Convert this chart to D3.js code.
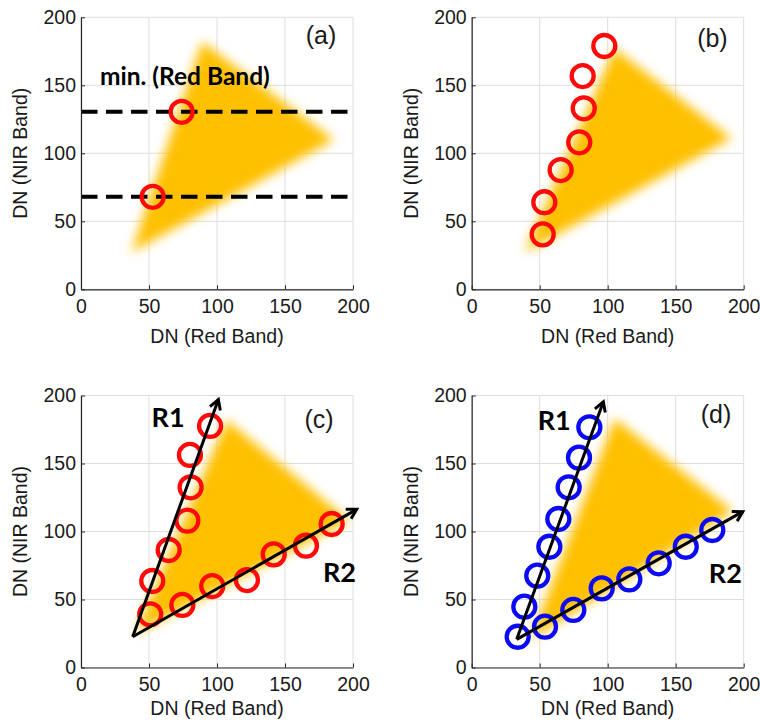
<!DOCTYPE html>
<html>
<head>
<meta charset="utf-8">
<script src="https://cdn.jsdelivr.net/npm/d3@7"></script>
<style>
  body { margin: 0; background: #fff; }
  svg { display: block; }
</style>
</head>
<body>
<svg id="fig" width="760" height="726"></svg>
<script>
// ---- data (DN of the Red band on x, DN of the NIR band on y) ----
const ticks = [0, 50, 100, 150, 200];
const xLabel = "DN (Red Band)";
const yLabel = "DN (NIR Band)";
const panelLetters = ["(a)", "(b)", "(c)", "(d)"];

// outline of the pixel cluster in each panel
const clusterA = [[89, 182], [37, 27], [186, 110]];
const clusterB = [[105, 177], [39, 27], [191, 111]];
const clusterC = [[107, 182], [40, 25], [197, 108]];
const clusterD = [[105, 183], [43, 20], [192, 115]];

// (a) minimum-red search on two NIR levels
const minLevelsA = [130.5, 68];
const minPointsA = [[74, 130.5], [52.7, 68]];

// (b) minimum-red pixels per NIR level
const edgePointsB = [[97.5, 178.9], [81.6, 156.8], [82.4, 133.1], [79.1, 108.1], [65.4, 87.7], [53.4, 64], [52.2, 40.4]];

// (c) R1 / R2 candidate edge pixels
const r1PointsC = [[94.9, 177.6], [80.1, 156.3], [80.6, 132.5], [78.2, 108], [64.5, 86.4], [52.4, 63.6], [50.9, 39.1]];
const r2PointsC = [[74.5, 46], [96.5, 59.9], [122, 64.3], [141.7, 83.2], [165.4, 89.6], [184.3, 105.5]];
const originC = [38, 22.6];
const r1EndC = [101, 197];
const r2EndC = [202.7, 116.3];

// (d) resampled points along R1 / R2
const r1PointsD = [[86.5, 176.6], [78.9, 154.3], [71.3, 132.5], [63.7, 109.2], [57.1, 88.8], [48.2, 67.5], [38.7, 44.7], [33.8, 22.6]];
const r2PointsD = [[53.9, 30], [74.7, 42.3], [95.6, 58.2], [115.9, 64.8], [137.5, 76.6], [157.4, 88.8], [176.9, 101.1]];
const originD = [33.1, 20.7];
const r1EndD = [96.8, 195.4];
const r2EndD = [199.3, 114.6];

// ---- layout ----
const size = 272;
const layout = [
  { left: 81,    top: 17.3,  xlabOff: 54,  letter: [176.5, 180.4] },
  { left: 471.7, top: 17.3,  xlabOff: 54,  letter: [177, 178.2] },
  { left: 81,    top: 395.5, xlabOff: 47,  letter: [175, 176] },
  { left: 471.7, top: 395.5, xlabOff: 47,  letter: [179.6, 179.8] }
];

const RED = "#ff0a0a", BLUE = "#0a0af5", YELLOW = "#ffc000", INK = "#1a1a1a";
const FONT = "Liberation Sans, Arial, sans-serif";
const svg = d3.select("#fig");
const defs = svg.append("defs");
defs.append("filter").attr("id", "soft")
  .attr("x", "-20%").attr("y", "-20%").attr("width", "140%").attr("height", "140%")
  .append("feGaussianBlur").attr("stdDeviation", 5.5);

function makePanel(i) {
  const L = layout[i];
  const x = d3.scaleLinear().domain([0, 200]).range([0, size]);
  const y = d3.scaleLinear().domain([0, 200]).range([size, 0]);
  const g = svg.append("g").attr("transform", `translate(${L.left},${L.top})`);

  // grid
  const grid = g.append("g").attr("stroke", "#dedede").attr("stroke-width", 1);
  ticks.forEach(t => {
    grid.append("line").attr("x1", x(t)).attr("x2", x(t)).attr("y1", 0).attr("y2", size);
    grid.append("line").attr("y1", y(t)).attr("y2", y(t)).attr("x1", 0).attr("x2", size);
  });

  const layer = g.append("g");

  // axes
  const ax = g.append("g").attr("transform", `translate(0,${size})`)
    .call(d3.axisBottom(x).tickValues(ticks).tickSizeInner(-4).tickSizeOuter(0).tickPadding(10));
  const ay = g.append("g")
    .call(d3.axisLeft(y).tickValues(ticks).tickSizeInner(-4).tickSizeOuter(0).tickPadding(5));
  [ax, ay].forEach(a => {
    a.select(".domain").attr("stroke", "#262626").attr("stroke-width", 1.2);
    a.selectAll(".tick line").attr("stroke", "#262626");
    a.selectAll("text").attr("font-family", FONT).attr("font-size", 19.5).attr("fill", INK);
  });

  g.append("text").attr("x", size / 2).attr("y", size + L.xlabOff)
    .attr("text-anchor", "middle").attr("font-family", FONT)
    .attr("font-size", 19.5).attr("fill", INK).text(xLabel);
  g.append("text").attr("transform", `translate(-54,${size / 2}) rotate(-90)`)
    .attr("text-anchor", "middle").attr("font-family", FONT)
    .attr("font-size", 19.5).attr("fill", INK).text(yLabel);

  g.append("text").attr("x", x(L.letter[0])).attr("y", y(L.letter[1]))
    .attr("text-anchor", "middle").attr("font-family", FONT)
    .attr("font-size", 25).attr("fill", INK).text(panelLetters[i]);

  return { g, layer, x, y };
}

function cluster(p, pts) {
  p.layer.append("path")
    .attr("d", d3.line().x(d => p.x(d[0])).y(d => p.y(d[1])).curve(d3.curveLinearClosed)(pts))
    .attr("fill", YELLOW).attr("filter", "url(#soft)");
}

function rings(p, pts, color) {
  p.layer.append("g").selectAll("circle").data(pts).join("circle")
    .attr("cx", d => p.x(d[0])).attr("cy", d => p.y(d[1])).attr("r", 11)
    .attr("fill", "none").attr("stroke", color).attr("stroke-width", 4.3);
}

function arrow(p, from, to) {
  const x0 = p.x(from[0]), y0 = p.y(from[1]), x1 = p.x(to[0]), y1 = p.y(to[1]);
  const ang = Math.atan2(y1 - y0, x1 - x0), w = 11, spread = Math.PI / 6;
  p.layer.append("line").attr("x1", x0).attr("y1", y0).attr("x2", x1).attr("y2", y1)
    .attr("stroke", "#000").attr("stroke-width", 3);
  const a1 = [x1 - w * Math.cos(ang - spread), y1 - w * Math.sin(ang - spread)];
  const a2 = [x1 - w * Math.cos(ang + spread), y1 - w * Math.sin(ang + spread)];
  p.layer.append("path").attr("d", `M${a1}L${x1},${y1}L${a2}`)
    .attr("fill", "none").attr("stroke", "#000").attr("stroke-width", 3)
    .attr("stroke-linejoin", "miter");
}

function boldLabel(p, txt, xv, yv, anchor, fs) {
  p.layer.append("text").attr("x", p.x(xv)).attr("y", p.y(yv)).attr("text-anchor", anchor)
    .attr("font-family", "Lato, 'Open Sans', sans-serif").attr("font-weight", 700)
    .attr("font-size", fs).attr("fill", "#000").text(txt);
}

// (a)
const pa = makePanel(0);
cluster(pa, clusterA);
pa.layer.append("g").selectAll("line").data(minLevelsA).join("line")
  .attr("x1", pa.x(0)).attr("x2", pa.x(200))
  .attr("y1", d => pa.y(d)).attr("y2", d => pa.y(d))
  .attr("stroke", "#000").attr("stroke-width", 4).attr("stroke-dasharray", "16.5,8.5");
rings(pa, minPointsA, RED);
boldLabel(pa, "min. (Red Band)", 14, 150, "start", 24.5);

// (b)
const pb = makePanel(1);
cluster(pb, clusterB);
rings(pb, edgePointsB, RED);

// (c)
const pc = makePanel(2);
cluster(pc, clusterC);
rings(pc, r1PointsC, RED);
rings(pc, r2PointsC, RED);
arrow(pc, originC, r1EndC);
arrow(pc, originC, r2EndC);
boldLabel(pc, "R1", 64, 177, "middle", 27);
boldLabel(pc, "R2", 190, 63.1, "middle", 27);

// (d)
const pd = makePanel(3);
cluster(pd, clusterD);
rings(pd, r1PointsD, BLUE);
rings(pd, r2PointsD, BLUE);
arrow(pd, originD, r1EndD);
arrow(pd, originD, r2EndD);
boldLabel(pd, "R1", 60.7, 174.6, "middle", 27);
boldLabel(pd, "R2", 186.5, 62.4, "middle", 27);
</script>
</body>
</html>
